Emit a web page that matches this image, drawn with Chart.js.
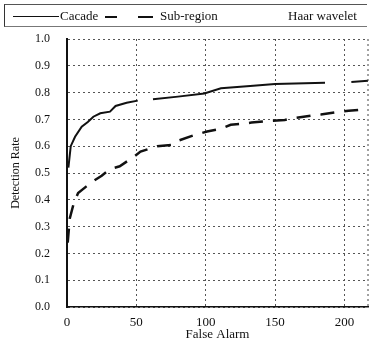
<!DOCTYPE html>
<html>
<head>
<meta charset="utf-8">
<script src="https://cdn.jsdelivr.net/npm/chart.js@4"></script>
<style>
  html, body { margin: 0; padding: 0; background: #fff; }
  #wrap { position: relative; width: 371px; height: 341px; }
  #legend {
    position: absolute; left: 4px; top: 4px; width: 362px; height: 21px;
    border-top: 1px solid #555; border-bottom: 1px solid #777; border-left: 1px solid #333;
    font-family: "Liberation Serif", serif; font-size: 13px; color: #111;
  }
  #legend span { position: absolute; top: 3px; white-space: nowrap; }
  .ln { position: absolute; top: 11px; height: 0; }
</style>
</head>
<body>
<div id="wrap">
  <canvas id="chart" width="371" height="341"></canvas>
  <div id="legend"></div>
</div>
<script>
const seriesNames = ['Cacade', 'Sub-region', 'Haar wavelet'];

const cascadeX = [1, 2.7, 5.8, 10.6, 15, 19, 24, 31, 35, 43, 51, 56, 62, 80, 99, 111, 132, 150, 186, 195, 205, 217];
const cascadeY = [0.52, 0.60, 0.635, 0.673, 0.69, 0.71, 0.723, 0.729, 0.75, 0.762, 0.77, null, 0.775, 0.785, 0.797, 0.816, 0.825, 0.832, 0.837, null, 0.84, 0.844];

const subX = [0.5, 2, 5, 8, 14, 19, 25, 31, 38, 48, 53, 65, 76, 80, 91, 101, 111, 118, 125, 133, 145, 157, 164, 176, 183, 196, 203, 217];
const subY = [0.24, 0.33, 0.39, 0.425, 0.45, 0.47, 0.49, 0.515, 0.525, 0.56, 0.58, 0.60, 0.605, 0.62, 0.64, 0.655, 0.665, 0.68, 0.683, 0.688, 0.694, 0.698, 0.705, 0.714, 0.718, 0.728, 0.732, 0.739];

const xTicks = [0, 50, 100, 150, 200];
const yTicks = [0, 0.1, 0.2, 0.3, 0.4, 0.5, 0.6, 0.7, 0.8, 0.9, 1.0];

// legend (html)
const legend = document.getElementById('legend');
legend.innerHTML =
  '<div class="ln" style="left:8px;width:46px;border-top:1.5px solid #111"></div>' +
  '<span style="left:55px">' + seriesNames[0] + '</span>' +
  '<div class="ln" style="left:100px;width:12px;border-top:2px solid #111"></div>' +
  '<div class="ln" style="left:133px;width:15px;border-top:2px solid #111"></div>' +
  '<span style="left:155px">' + seriesNames[1] + '</span>' +
  '<span style="left:283px">' + seriesNames[2] + '</span>';

// dotted right edge of the plot frame
const frameEdge = {
  id: 'frameEdge',
  afterDatasetsDraw(chart) {
    const a = chart.chartArea, ctx = chart.ctx;
    ctx.save();
    ctx.strokeStyle = '#444';
    ctx.lineWidth = 1;
    ctx.setLineDash([2, 3]);
    ctx.beginPath();
    ctx.moveTo(a.right, a.top);
    ctx.lineTo(a.right, a.bottom);
    ctx.stroke();
    ctx.restore();
  }
};

const serif = "'Liberation Serif', serif";

new Chart(document.getElementById('chart'), {
  type: 'line',
  data: {
    datasets: [
      {
        label: seriesNames[0],
        data: cascadeX.map((x, i) => ({ x: x, y: cascadeY[i] })),
        borderColor: '#111',
        borderWidth: 2,
        pointRadius: 0,
        tension: 0,
        spanGaps: false
      },
      {
        label: seriesNames[1],
        data: subX.map((x, i) => ({ x: x, y: subY[i] })),
        borderColor: '#111',
        borderWidth: 2.5,
        borderDash: [14, 10],
        pointRadius: 0,
        tension: 0
      }
    ]
  },
  plugins: [frameEdge],
  options: {
    animation: false,
    responsive: false,
    devicePixelRatio: 1,
    layout: { padding: { top: 39, right: 3, left: 5, bottom: 0 } },
    plugins: {
      legend: { display: false },
      tooltip: { enabled: false }
    },
    scales: {
      x: {
        type: 'linear',
        min: 0,
        max: 217,
        afterBuildTicks: s => { s.ticks = xTicks.map(v => ({ value: v })); },
        afterFit: s => { s.height = 34; },
        ticks: {
          padding: 8,
          color: '#111',
          font: { family: serif, size: 13 },
          maxRotation: 0
        },
        grid: {
          color: '#555',
          lineWidth: 1,
          drawTicks: false
        },
        border: { display: true, color: '#111', width: 1.5, dash: [2, 3] },
        title: {
          display: true,
          text: 'False Alarm',
          color: '#111',
          font: { family: serif, size: 13, lineHeight: 1 },
          padding: { top: 0, bottom: 0 }
        }
      },
      y: {
        min: 0,
        max: 1,
        afterBuildTicks: s => { s.ticks = yTicks.map(v => ({ value: v })); },
        afterFit: s => { s.width = 62; },
        ticks: {
          padding: 17,
          color: '#111',
          font: { family: serif, size: 12 },
          callback: v => v.toFixed(1)
        },
        grid: {
          color: '#555',
          lineWidth: 1,
          drawTicks: false
        },
        border: { display: true, color: '#111', width: 2, dash: [2, 3] },
        title: {
          display: true,
          text: 'Detection Rate',
          color: '#111',
          font: { family: serif, size: 12 },
          padding: { top: 4, bottom: 0 }
        }
      }
    }
  }
});
</script>
</body>
</html>
